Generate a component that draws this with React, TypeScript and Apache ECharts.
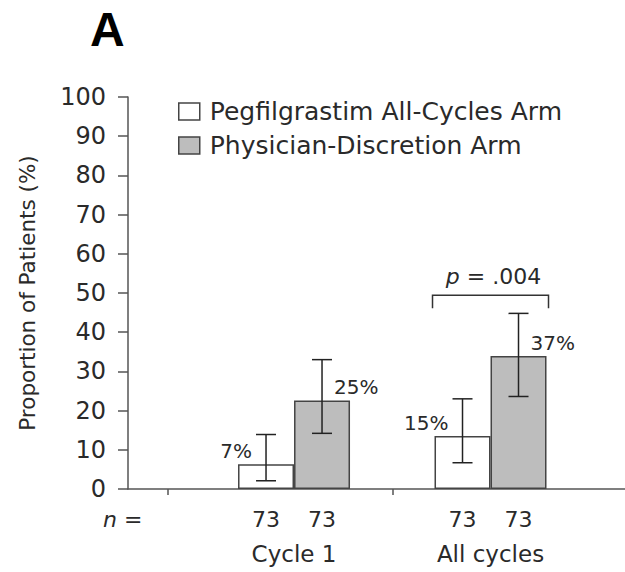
import React, { useEffect, useRef } from "react";
import * as echarts from "echarts";

// ---- data ----
const categories = ["Cycle 1", "All cycles"];
const seriesNames = ["Pegfilgrastim All-Cycles Arm", "Physician-Discretion Arm"];
const pegValues = [6.3, 13.5];
const physValues = [22.6, 33.9];
const pegLabels = ["7%", "15%"];
const physLabels = ["25%", "37%"];
const pegLow = [2.1, 6.7];
const pegHigh = [13.9, 23.0];
const physLow = [14.2, 23.6];
const physHigh = [33.0, 44.8];
const pegN = [73, 73];
const physN = [73, 73];
const pBracketCategory = [1];
const pBracketTop = [49.4];
const pBracketBottom = [46.1];
const pValueLabel = ".004";

// ---- styling ----
const FONT = '"DejaVu Sans", sans-serif';
const TEXT = "#2a2a2a";
const LINE = "#555";
const BAR_WIDTH = 56;
const X_MIN = -0.845;
const X_MAX = 1.6845;

function errorSeries(name: string, low: number[], high: number[], n: number[], offsetPx: number) {
  return {
    type: "custom",
    name,
    silent: true,
    z: 10,
    data: low.map((l, i) => [i, l, high[i], n[i]]),
    renderItem: (params: any, api: any) => {
      const x = api.value(0);
      const lo = api.coord([x, api.value(1)]);
      const hi = api.coord([x, api.value(2)]);
      const base = api.coord([x, 0]);
      const cx = lo[0] + offsetPx;
      const cap = 10;
      const style = { stroke: "#222", lineWidth: 1.5 };
      return {
        type: "group",
        children: [
          { type: "line", shape: { x1: cx, y1: lo[1], x2: cx, y2: hi[1] }, style },
          { type: "line", shape: { x1: cx - cap, y1: hi[1], x2: cx + cap, y2: hi[1] }, style },
          { type: "line", shape: { x1: cx - cap, y1: lo[1], x2: cx + cap, y2: lo[1] }, style },
          {
            type: "text",
            x: cx,
            y: base[1] + 30,
            style: {
              text: String(api.value(3)),
              fontSize: 22,
              fontFamily: FONT,
              fill: TEXT,
              align: "center",
              verticalAlign: "middle",
            },
          },
        ],
      };
    },
  };
}

const bracketSeries = {
  type: "custom",
  name: "p-value",
  silent: true,
  z: 10,
  data: pBracketCategory.map((c, i) => [c, pBracketTop[i], pBracketBottom[i]]),
  renderItem: (params: any, api: any) => {
    const x = api.value(0);
    const top = api.coord([x, api.value(1)]);
    const bottom = api.coord([x, api.value(2)]);
    const cx = top[0];
    const half = BAR_WIDTH + 2;
    const style = { stroke: "#333", lineWidth: 1.5, fill: null };
    return {
      type: "group",
      children: [
        {
          type: "polyline",
          shape: {
            points: [
              [cx - half, bottom[1]],
              [cx - half, top[1]],
              [cx + half, top[1]],
              [cx + half, bottom[1]],
            ],
          },
          style,
        },
        {
          type: "text",
          x: cx + 3,
          y: top[1] - 19,
          style: {
            text: "{i|p} = " + pValueLabel,
            rich: { i: { fontStyle: "italic", fontSize: 22, fontFamily: FONT, fill: TEXT } },
            fontSize: 22,
            fontFamily: FONT,
            fill: TEXT,
            align: "center",
            verticalAlign: "middle",
          },
        },
      ],
    };
  },
};

const option: any = {
  animation: false,
  backgroundColor: "#fff",
  textStyle: { fontFamily: FONT },
  grid: { left: 128, right: 0, top: 97, bottom: 83, containLabel: false },
  legend: {
    orient: "vertical",
    left: 178,
    top: 99,
    padding: 0,
    itemWidth: 21,
    itemHeight: 17,
    itemGap: 9,
    icon: "rect",
    selectedMode: false,
    data: seriesNames,
    itemStyle: { borderColor: "#444", borderWidth: 1.5 },
    textStyle: { fontSize: 25, fontFamily: FONT, color: TEXT, padding: [0, 0, 0, 5] },
  },
  graphic: [
    {
      type: "text",
      left: 90,
      top: 5,
      style: {
        text: "A",
        font: 'bold 48px "Liberation Sans", Arial, sans-serif',
        lineHeight: 40,
        fill: "#000",
      },
    },
    {
      type: "text",
      left: 103,
      top: 508,
      style: {
        text: "{i|n} =",
        rich: { i: { fontStyle: "italic", fontSize: 22, fontFamily: FONT, fill: TEXT } },
        fontSize: 22,
        fontFamily: FONT,
        fill: TEXT,
      },
    },
  ],
  xAxis: {
    type: "value",
    min: X_MIN,
    max: X_MAX,
    axisLine: { show: true, onZero: false, lineStyle: { color: LINE, width: 1.5 } },
    axisTick: { show: true, length: 6, customValues: [-0.641, 0.504], lineStyle: { color: LINE, width: 1.5 } },
    axisLabel: {
      customValues: [0, 1],
      formatter: (v: number) => categories[Math.round(v)] ?? "",
      margin: 53,
      fontSize: 23,
      fontFamily: FONT,
      color: TEXT,
    },
    splitLine: { show: false },
  },
  yAxis: {
    type: "value",
    min: 0,
    max: 100,
    interval: 10,
    name: "Proportion of Patients (%)",
    nameLocation: "middle",
    nameGap: 90,
    nameTextStyle: { fontSize: 21.5, fontFamily: FONT, color: TEXT },
    axisLine: { show: true, onZero: false, lineStyle: { color: LINE, width: 1.5 } },
    axisTick: { show: true, length: 10, lineStyle: { color: LINE, width: 1.5 } },
    axisLabel: { fontSize: 24, margin: 22, fontFamily: FONT, color: TEXT },
    splitLine: { show: false },
  },
  series: [
    {
      type: "bar",
      name: seriesNames[0],
      barWidth: BAR_WIDTH,
      barGap: "0%",
      data: pegValues.map((v, i) => [i, v]),
      itemStyle: { color: "#ffffff", borderColor: "#444", borderWidth: 1.5 },
      label: {
        show: true,
        position: "top",
        distance: 5,
        align: "right",
        offset: [-14, 2],
        formatter: (p: any) => pegLabels[p.dataIndex],
        fontSize: 20,
        fontFamily: FONT,
        color: TEXT,
      },
      silent: true,
    },
    {
      type: "bar",
      name: seriesNames[1],
      barWidth: BAR_WIDTH,
      barGap: "0%",
      data: physValues.map((v, i) => [i, v]),
      itemStyle: { color: "#bdbdbd", borderColor: "#444", borderWidth: 1.5 },
      label: {
        show: true,
        position: "top",
        distance: 5,
        align: "left",
        offset: [12, 2],
        formatter: (p: any) => physLabels[p.dataIndex],
        fontSize: 20,
        fontFamily: FONT,
        color: TEXT,
      },
      silent: true,
    },
    errorSeries("Pegfilgrastim CI", pegLow, pegHigh, pegN, -BAR_WIDTH / 2),
    errorSeries("Physician CI", physLow, physHigh, physN, BAR_WIDTH / 2),
    bracketSeries,
  ],
};

export default function App() {
  const ref = useRef<HTMLDivElement>(null);
  useEffect(() => {
    const chart = echarts.init(ref.current!, null, { renderer: "svg" });
    chart.setOption(option);
    return () => chart.dispose();
  }, []);
  return (
    <div
      ref={ref}
      style={{ position: "fixed", left: 0, top: 0, width: 625, height: 572, background: "#fff" }}
    />
  );
}
